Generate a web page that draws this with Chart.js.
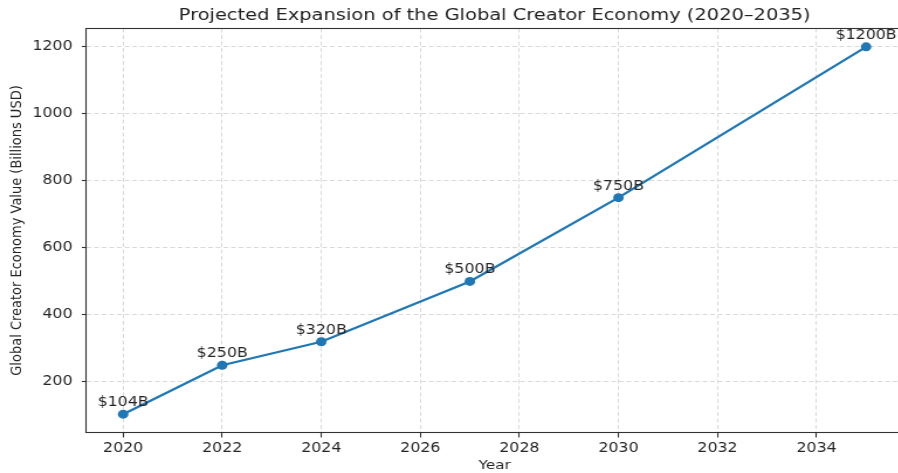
<!DOCTYPE html>
<html lang="en">
<head>
    <meta charset="UTF-8">
    <title>Global Creator Economy</title>
    <style>
        body {
            margin: 0;
            width: 898px;
            height: 473px;
            overflow: hidden;
            background: #fff;
        }
        #wrap {
            width: 780px;
            height: 473px;
            transform: scaleX(1.17);
            transform-origin: 0 0;
        }
    </style>
</head>
<body>
<div id="wrap"><canvas id="chart"></canvas></div>
<script src="https://cdn.jsdelivr.net/npm/chart.js"></script>
<script>
    // data
    const years = [2020, 2022, 2024, 2027, 2030, 2035];
    const values = [104, 250, 320, 500, 750, 1200];
    const pointLabels = values.map(v => '$' + v + 'B');
    const xTicks = [2020, 2022, 2024, 2026, 2028, 2030, 2032, 2034];
    const yTicks = [200, 400, 600, 800, 1000, 1200];

    const titleText = 'Projected Expansion of the Global Creator Economy (2020\u20132035)';
    const font = 'DejaVu Sans';
    const ink = '#262626';

    // box around the plot + title over the plot area
    const framePlugin = {
        id: 'frame',
        beforeDatasetsDraw(chart) {
            const a = chart.chartArea, ctx = chart.ctx;
            ctx.save();
            ctx.strokeStyle = '#333';
            ctx.lineWidth = 1.1;
            ctx.strokeRect(a.left, a.top, a.right - a.left, a.bottom - a.top);
            ctx.restore();
        },
        afterDraw(chart) {
            const a = chart.chartArea, ctx = chart.ctx;
            ctx.save();
            ctx.fillStyle = '#222';
            ctx.font = '16.6px "' + font + '"';
            ctx.textAlign = 'center';
            ctx.textBaseline = 'middle';
            ctx.fillText(titleText, (a.left + a.right) / 2, 15.5);
            ctx.restore();
        }
    };

    // "$xxxB" text above each point
    const labelPlugin = {
        id: 'pointText',
        afterDatasetsDraw(chart) {
            const ctx = chart.ctx;
            const meta = chart.getDatasetMeta(0);
            ctx.save();
            ctx.fillStyle = ink;
            ctx.font = '13.5px "' + font + '"';
            ctx.textAlign = 'center';
            ctx.textBaseline = 'alphabetic';
            meta.data.forEach((p, i) => {
                ctx.fillText(pointLabels[i], p.x, p.y - 8);
            });
            ctx.restore();
        }
    };

    const gridStyle = {
        color: '#d9d9d9',
        lineWidth: 1,
        drawTicks: true,
        tickColor: '#333',
        tickBorderDash: [],
        tickWidth: 1.1
    };
    const borderStyle = { display: false, dash: [4, 2.5] };

    new Chart(document.getElementById('chart'), {
        type: 'line',
        data: {
            datasets: [{
                data: years.map((y, i) => ({ x: y, y: values[i] })),
                borderColor: '#1f77b4',
                backgroundColor: '#1f77b4',
                borderWidth: 2.3,
                pointRadius: 4.5,
                pointHoverRadius: 4.5,
                pointBorderWidth: 0,
                tension: 0,
                clip: false
            }]
        },
        options: {
            responsive: true,
            maintainAspectRatio: false,
            animation: false,
            events: [],
            layout: { padding: { top: 28.5, right: 8, bottom: 0, left: 0 } },
            plugins: {
                legend: { display: false },
                tooltip: { enabled: false },
                title: { display: false }
            },
            scales: {
                x: {
                    type: 'linear',
                    min: 2019.25,
                    max: 2035.75,
                    afterBuildTicks: s => { s.ticks = xTicks.map(v => ({ value: v })); },
                    afterFit: s => { s.height = 473 - 432.5; },
                    grid: Object.assign({ tickLength: 5 }, gridStyle),
                    border: borderStyle,
                    ticks: {
                        color: ink,
                        font: { family: font, size: 13.5 },
                        padding: 3,
                        maxRotation: 0,
                        callback: v => String(v)
                    },
                    title: {
                        display: true,
                        text: 'Year',
                        color: ink,
                        font: { family: font, size: 13 },
                        padding: { top: 0, bottom: 0 }
                    }
                },
                y: {
                    min: 49.2,
                    max: 1254.8,
                    afterBuildTicks: s => { s.ticks = yTicks.map(v => ({ value: v })); },
                    afterFit: s => { s.width = 86 / 1.17; },
                    grid: Object.assign({ tickLength: 3.5 }, gridStyle),
                    border: borderStyle,
                    ticks: {
                        color: ink,
                        font: { family: font, size: 13.5 },
                        padding: 8,
                        callback: v => String(v)
                    },
                    title: {
                        display: true,
                        text: 'Global Creator Economy Value (Billions USD)',
                        color: ink,
                        font: { family: font, size: 13 },
                        padding: { top: 7, bottom: 0 }
                    }
                }
            }
        },
        plugins: [framePlugin, labelPlugin]
    });
</script>
</body>
</html>
